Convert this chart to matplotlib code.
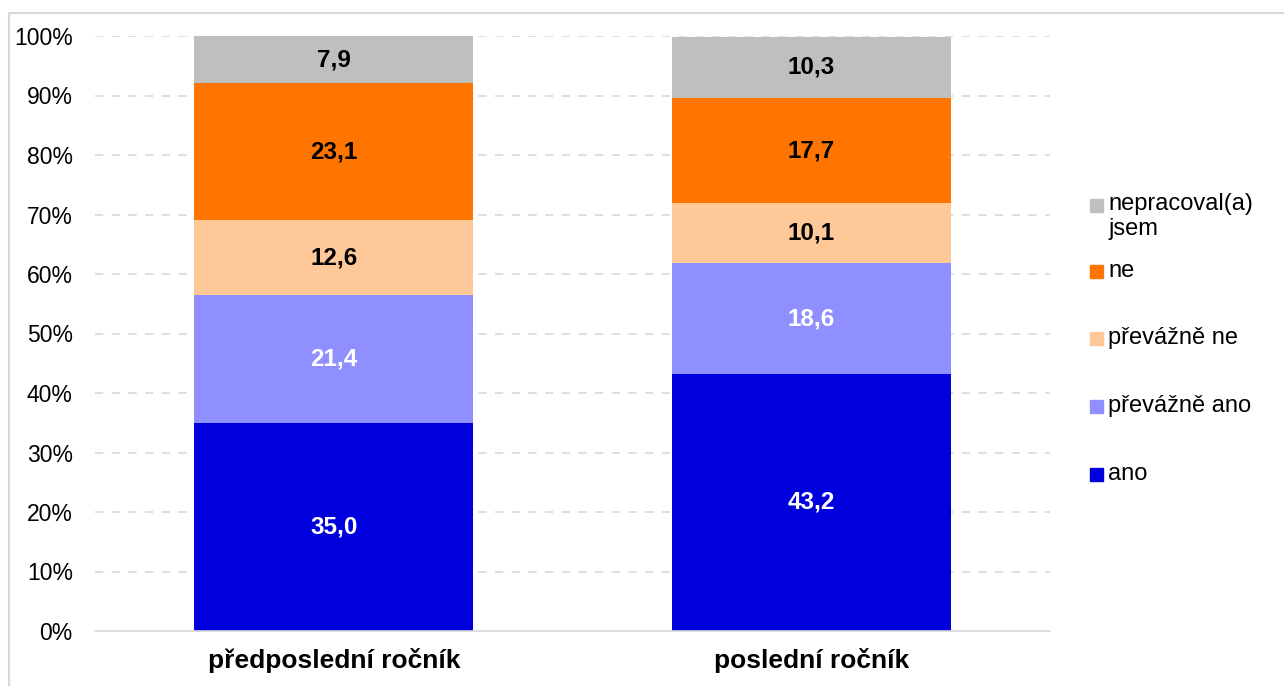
import matplotlib.pyplot as plt
from matplotlib.patches import Rectangle
import numpy as np

plt.rcParams['font.family'] = ['Liberation Sans', 'DejaVu Sans']

categories = ['předposlední ročník', 'poslední ročník']
series = ['ano', 'převážně ano', 'převážně ne', 'ne', 'nepracoval(a)\njsem']
values = {
    'ano': [35.0, 43.2],
    'převážně ano': [21.4, 18.6],
    'převážně ne': [12.6, 10.1],
    'ne': [23.1, 17.7],
    'nepracoval(a)\njsem': [7.9, 10.3],
}
colors = ['#0000DC', '#8F8FFF', '#FFC899', '#FF7500', '#BFBFBF']
label_colors = ['white', 'white', 'black', 'black', 'black']

fig = plt.figure(figsize=(12.84, 6.86), dpi=100)
ax = fig.add_axes([95 / 1284, 55 / 686, 955 / 1284, 595 / 686])

x = np.arange(len(categories))
bottom = np.zeros(len(categories))
for name, col, tcol in zip(series, colors, label_colors):
    vals = np.array(values[name])
    ax.bar(x, vals, 0.585, bottom=bottom, color=col, zorder=2)
    for xi, b, v in zip(x, bottom, vals):
        ax.text(xi, b + v / 2, f'{v:.1f}'.replace('.', ','), ha='center', va='center',
                color=tcol, fontsize=17.5, fontweight='bold', zorder=3)
    bottom += vals

ax.set_xlim(-0.5, 1.5)
ax.set_ylim(0, 100)
ax.set_yticks(np.arange(0, 101, 10))
ax.set_yticklabels([f'{t}%' for t in range(0, 101, 10)], fontsize=16.5)
ax.set_xticks(x)
ax.set_xticklabels(categories, fontsize=19, fontweight='bold')
ax.tick_params(axis='both', length=0)
ax.tick_params(axis='y', pad=16)
ax.tick_params(axis='x', pad=12)
for t in range(10, 101, 10):
    ax.axhline(t, color='#D9D9D9', linestyle=(0, (5, 5)), linewidth=1.2, zorder=1)
for s in ['top', 'right', 'left']:
    ax.spines[s].set_visible(False)
ax.spines['bottom'].set_color('#D9D9D9')
ax.spines['bottom'].set_linewidth(1.2)

# legend drawn by hand to follow the original spacing
leg_y = [474, 406, 338, 271, 205]
for name, col, yy in zip(series, colors, leg_y):
    fig.patches.append(Rectangle((1090 / 1284, (686 - yy - 7) / 686), 13 / 1284, 13 / 686,
                                 transform=fig.transFigure, color=col))
    fig.text(1108 / 1284, (686 - yy) / 686, name, fontsize=17, va='top' if '\n' in name else 'center',
             linespacing=1.2)
fig.texts[-1].set_position((1108 / 1284, (686 - 193) / 686))

# outer frame
fig.patches.append(Rectangle((9 / 1284, -0.01), 1.0, (686 - 13) / 686 + 0.01,
                             transform=fig.transFigure, fill=False, edgecolor='#D9D9D9', linewidth=1.5))

fig.savefig('out.png', dpi=100)
